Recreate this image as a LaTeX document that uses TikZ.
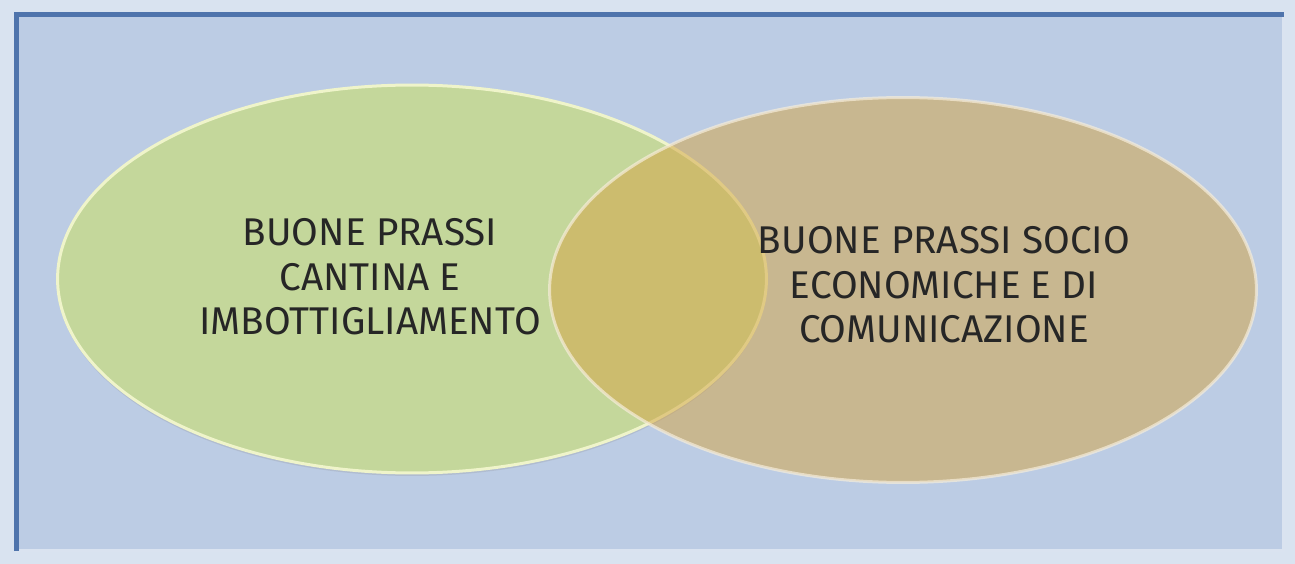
\documentclass[tikz,border=0pt]{standalone}
\usepackage{fontspec}
\setmainfont{Fira Sans}
\usetikzlibrary{shapes.geometric,shadows}
\definecolor{outerbg}{HTML}{D9E3F0}
\definecolor{panel}{HTML}{BCCCE4}
\definecolor{frameline}{HTML}{4F74AC}
\definecolor{greenset}{HTML}{C4D79B}
\definecolor{brownset}{HTML}{D4A547}
\definecolor{textcol}{HTML}{262626}
\tikzset{setbox/.style={ellipse,inner sep=0pt,line width=0.06cm}}
\tikzset{t/.style={align=center,text=textcol,font=\fontsize{22}{25.3}\selectfont}}

\begin{document}
\begin{tikzpicture}[x=0.02cm,y=-0.02cm]
      \path[fill=outerbg] (0,0) rectangle (1295,564);
      \fill[panel] (14,12) rectangle (1284,551);
      \draw[white!45!panel,line width=0.06cm] (14,550) -- (1283,550) -- (1283,12);
      \draw[frameline,line width=0.1cm] (16.5,551) -- (16.5,14.5) -- (1284,14.5);
      \node[setbox,minimum width=14.18cm,minimum height=7.76cm,fill=greenset,
            draw=white!70!greenset!90!yellow,
            drop shadow={opacity=0.2,shadow xshift=0pt,shadow yshift=-0.06cm}] (cantina) at (412,279) {};
      \node[setbox,minimum width=14.14cm,minimum height=7.7cm,fill=brownset,fill opacity=0.53,
            draw=white!80!brownset,draw opacity=0.7] (socio) at (903,290) {};
      \node[t] (cantinatxt) at (370,277) {BUONE PRASSI\\CANTINA E\\IMBOTTIGLIAMENTO};
      \node[t] (sociotxt) at (944,285) {BUONE PRASSI SOCIO\\ECONOMICHE E DI\\COMUNICAZIONE};
    \end{tikzpicture}
\end{document}
